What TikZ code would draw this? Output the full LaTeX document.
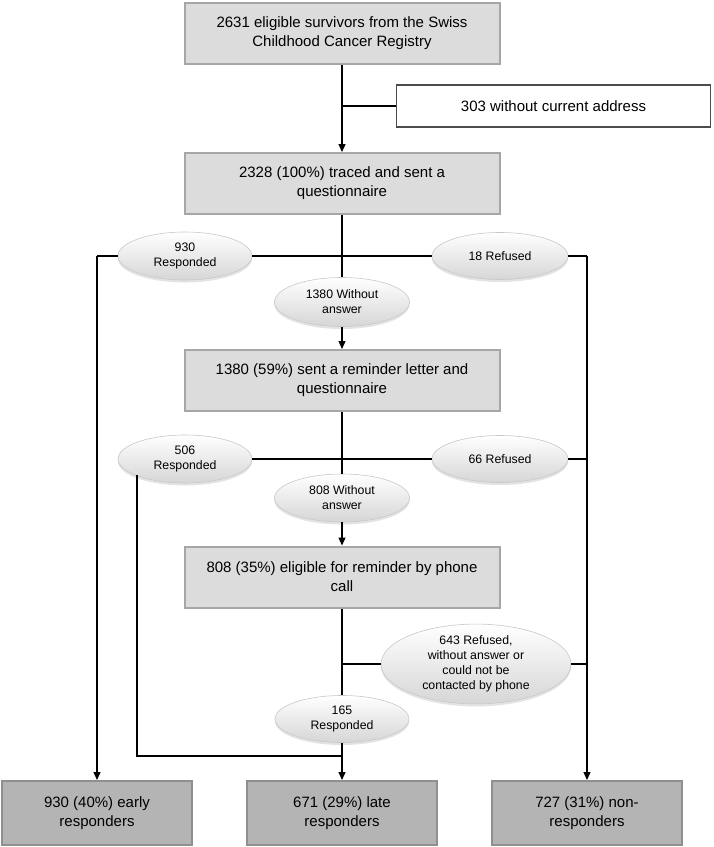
\documentclass[tikz,border=0pt]{standalone}
\usepackage{fontspec}
\setmainfont{Liberation Sans}
\usetikzlibrary{shapes.geometric,shadows,arrows.meta}
\definecolor{boxfill}{HTML}{DCDCDC}
\definecolor{boxline}{HTML}{A6A6A6}
\definecolor{endfill}{HTML}{B4B4B4}
\definecolor{endline}{HTML}{8F8F8F}
\definecolor{ovalline}{HTML}{C8C8C8}
\definecolor{ovalbot}{HTML}{D6D6D6}
\begin{document}
\begin{tikzpicture}[x=1pt,y=-1pt,
  mainbox/.style={rectangle, fill=boxfill, draw=boxline, line width=2pt,
    minimum width=315pt, minimum height=61pt, align=center, inner sep=2pt,
    font=\fontsize{15}{19}\selectfont},
  endbox/.style={rectangle, fill=endfill, draw=endline, line width=2pt,
    minimum width=190pt, minimum height=64pt, align=center, inner sep=2pt,
    font=\fontsize{15}{19}\selectfont},
  sidebox/.style={rectangle, fill=white, draw=black!70, line width=1.5pt,
    minimum width=314pt, minimum height=42pt, align=center,
    font=\fontsize{15}{19}\selectfont},
  oval/.style={ellipse, top color=white, bottom color=ovalbot, draw=ovalline,
    line width=0.6pt, align=center, inner sep=0pt,
    drop shadow={opacity=0.22, shadow xshift=0pt, shadow yshift=-2.5pt},
    font=\fontsize{12.3}{15}\selectfont},
  conn/.style={line width=1.2pt, draw=black},
  arr/.style={conn, -{Triangle[length=8pt,width=7pt]}}
]
\useasboundingbox (0,0) rectangle (713,847);

% main boxes
\node[mainbox] (b1) at (342,33.5) {2631 eligible survivors from the Swiss\\Childhood Cancer Registry};
\node[sidebox] (addr) at (553.5,106) {303 without current address};
\node[mainbox] (b2) at (342,183.5) {2328 (100\%) traced and sent a\\questionnaire};
\node[mainbox] (b3) at (342,380.5) {1380 (59\%) sent a reminder letter and\\questionnaire};
\node[mainbox] (b4) at (342,577) {808 (35\%) eligible for reminder by phone\\call};

% ovals
\node[oval, minimum width=134pt, minimum height=48pt] (e930) at (185,256) {930\\Responded};
\node[oval, minimum width=136pt, minimum height=47pt] (e18) at (500,256) {18 Refused};
\node[oval, minimum width=135pt, minimum height=49pt] (e1380) at (342,302) {1380 Without\\answer};
\node[oval, minimum width=134pt, minimum height=48pt] (e506) at (185,459) {506\\Responded};
\node[oval, minimum width=136pt, minimum height=47pt] (e66) at (500,459) {66 Refused};
\node[oval, minimum width=135pt, minimum height=48pt] (e808) at (342,498) {808 Without\\answer};
\node[oval, minimum width=190pt, minimum height=78pt] (e643) at (476,664) {643 Refused,\\without answer or\\could not be\\contacted by phone};
\node[oval, minimum width=134pt, minimum height=47pt] (e165) at (342,719) {165\\Responded};

% final boxes
\node[endbox] (f1) at (97,813) {930 (40\%) early\\responders};
\node[endbox] (f2) at (342,813) {671 (29\%) late\\responders};
\node[endbox] (f3) at (587,813) {727 (31\%) non-\\responders};

% coordinates
\coordinate (c1) at (342,106);
\coordinate (lt) at (97,256);
\coordinate (rt) at (587,256);
\coordinate (r2) at (587,459);
\coordinate (r3) at (587,664);
\coordinate (c3) at (342,664);
\coordinate (l1) at (137,475);
\coordinate (l2) at (137,756);
\coordinate (m2) at (342,756);

% connectors
\draw[arr] (b1.south) -- (b2.north);
\draw[conn] (c1) -- (addr.west);
\draw[conn] (b2.south) -- (e1380.north);
\draw[conn] (e930.east) -- (e18.west);
\draw[conn] (e930.west) -- (lt);
\draw[arr] (lt) -- (f1.north);
\draw[conn] (e18.east) -- (rt);
\draw[arr] (rt) -- (f3.north);
\draw[arr] (e1380.south) -- (b3.north);
\draw[conn] (b3.south) -- (e808.north);
\draw[conn] (e506.east) -- (e66.west);
\draw[conn] (e66.east) -- (r2);
\draw[arr] (e808.south) -- (b4.north);
\draw[conn] (b4.south) -- (e165.north);
\draw[conn] (c3) -- (e643.west);
\draw[conn] (e643.east) -- (r3);
\draw[conn] (l1) -- (l2) -- (m2);
\draw[arr] (e165.south) -- (f2.north);
\end{tikzpicture}
\end{document}
